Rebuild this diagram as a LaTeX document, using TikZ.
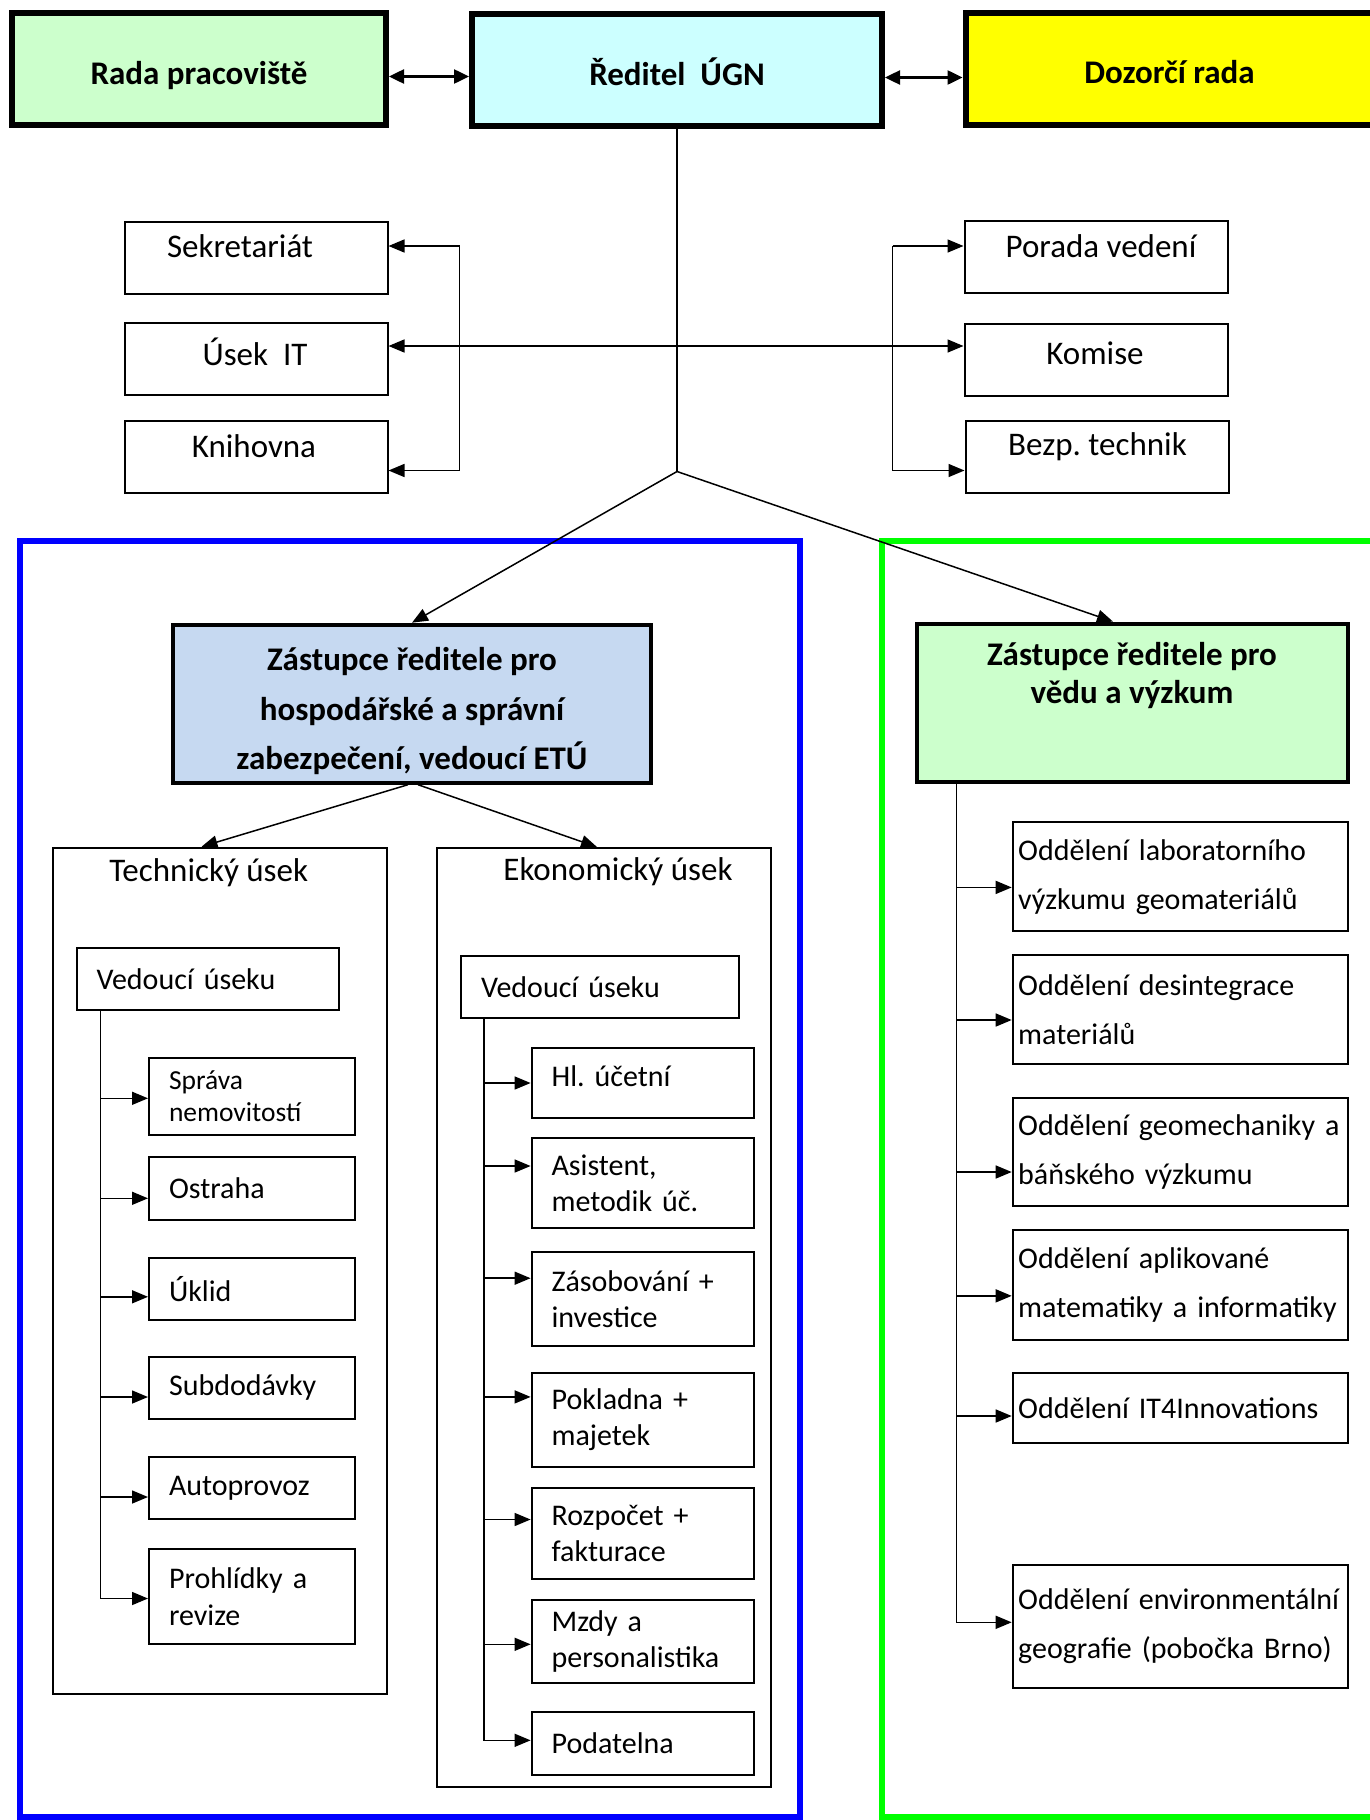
\documentclass[tikz,border=0pt]{standalone}
\usepackage{fontspec}
\setmainfont{Carlito}
\usetikzlibrary{arrows.meta, positioning}
\definecolor{radacolor}{RGB}{204,255,204}
\definecolor{reditelcolor}{RGB}{204,255,255}
\definecolor{dozorcolor}{RGB}{255,255,0}
\definecolor{hscolor}{RGB}{198,217,241}
\definecolor{frameblue}{RGB}{0,0,255}
\definecolor{framegreen}{RGB}{0,255,0}
\newcommand\fsz[2]{\fontsize{#1}{#2}\selectfont}
\frenchspacing

\begin{document}
\begin{tikzpicture}[
    x=1pt, y=-1pt,
    >={Triangle[length=16pt,width=13pt]},
    top/.style={draw, line width=6pt, fill=#1, minimum height=112pt, text height=31pt, text depth=0pt, font=\fsz{33}{40}\bfseries},
    frame/.style={draw=#1, line width=6pt, minimum height=1276pt},
    box/.style={draw, line width=2pt, inner sep=0pt},
    small/.style={box, minimum width=263pt, minimum height=72pt},
    lbl/.style={inner sep=0pt, font=\fsz{33}{40}},
    deputy/.style={draw, line width=4pt, fill=#1, minimum height=158pt},
    usek/.style={box, minimum width=334pt},
    vedouci/.style={box, text width=#1, minimum height=62pt, inner xsep=20pt, align=left, font=\fsz{30}{37}},
    tsub/.style={box, text width=166pt, inner xsep=20pt, align=left, font=\fsz{30}{37}},
    esub/.style={box, text width=182.4pt, inner xsep=20pt, align=left, font=\fsz{30}{36}},
    odd/.style={box, text width=324.3pt, inner xsep=5.5pt, align=left, font=\fsz{30}{49}},
    arr/.style={line width=1.5pt, ->},
    darr/.style={line width=2.5pt, {Triangle[length=15pt,width=14pt]}-{Triangle[length=15pt,width=14pt]}}
]
    \fill[white] (0,0) rectangle (1369,1820);
    \path[use as bounding box] (0,0) rectangle (1369,1820);

    % Frames of the two deputies
    \node[frame=frameblue, minimum width=780pt] (hsframe) at (410,1179) {};
    \node[frame=framegreen, minimum width=520pt] (vvframe) at (1141.7,1179) {};

    % Top row
    \node[top=radacolor, minimum width=374pt] (rada) at (199,68.5) {Rada pracoviště};
    \node[top=reditelcolor, minimum width=410pt] (reditel) at (677,69.5) {Ředitel~ ÚGN};
    \node[top=dozorcolor, minimum width=425pt] (dozor) at (1178,69) {};
    \node[lbl, font=\fsz{33}{40}\bfseries] (dozorT) at (1169.5,72) {Dozorčí rada};

    \draw[darr] ([yshift=-8pt]rada.east) -- ([yshift=-8pt]rada.east -| reditel.west);
    \draw[darr] ([yshift=-8pt]reditel.east) -- ([yshift=-8pt]reditel.east -| dozor.west);

    % Staff boxes
    \node[small] (sekr) at (256,257.5) {};
    \node[lbl] (sekrT) at (240,246.5) {Sekretariát};
    \node[small] (usekit) at (256,358.5) {};
    \node[lbl] (usekitT) at (255,352) {Úsek~ IT};
    \node[small] (knih) at (256,456.5) {};
    \node[lbl] (knihT) at (254,446) {Knihovna};

    \node[small] (porada) at (1096,256.5) {};
    \node[lbl] (poradaT) at (1101,246) {Porada vedení};
    \node[small] (komise) at (1096,359.5) {};
    \node[lbl] (komiseT) at (1095,353) {Komise};
    \node[small] (bezp) at (1097,456.5) {};
    \node[lbl] (bezpT) at (1097.5,446.5) {Bezp. technik};

    \coordinate (brL1) at (459.5,246);
    \coordinate (brL2) at (459.5,470.5);
    \coordinate (brR1) at (892.5,246);
    \coordinate (brR2) at (892.5,470.5);
    \draw[arr] (brL1) -- (brL1 -| sekr.east);
    \draw[arr] (brL1) -- (brL2) -- (brL2 -| knih.east);
    \draw[arr] (brR1) -- (brR1 -| porada.west);
    \draw[arr] (brR1) -- (brR2) -- (brR2 -| bezp.west);
    \draw[arr, <->] ([yshift=12.5pt]usekit.east) -- ([yshift=12.5pt]usekit.east -| komise.west);

    % Deputies
    \node[deputy=hscolor, minimum width=478pt] (zhs) at (412,703.7) {};
    \node[lbl, font=\fsz{33}{49.5}\bfseries, align=center] (zhsT) at (412,711.5) {Zástupce ředitele pro\\hospodářské a správní\\zabezpečení, vedoucí ETÚ};
    \node[deputy=radacolor, minimum width=431pt] (zvv) at (1132.5,702.6) {};
    \node[lbl, font=\fsz{33}{38}\bfseries, align=center] (zvvT) at (1132,676) {Zástupce ředitele pro\\vědu a výzkum};

    \coordinate (fork) at (677,471.5);
    \draw[line width=1.5pt] (reditel.south) -- (fork);
    \draw[arr] (fork) -- (zhs.north);
    \draw[arr] (fork) -- ([xshift=-19.5pt]zvv.north);

    % Technical and economic sections
    \node[usek, minimum height=846pt] (tech) at (220,1270.7) {};
    \node[lbl] (techT) at (208.7,872.7) {Technický úsek};
    \node[usek, minimum height=939pt] (econ) at (604,1317.5) {};
    \node[lbl] (econT) at (618,872) {Ekonomický úsek};
    \draw[arr] ([xshift=-4pt]zhs.south) -- ([xshift=-18.5pt]tech.north);
    \draw[arr] ([xshift=6pt]zhs.south) -- ([xshift=-7pt]econ.north);

    \node[vedouci=222.5pt] (tved) at (207.75,979) {Vedoucí úseku};
    \node[tsub, minimum height=77.4pt, font=\fsz{27.5}{32}] (sprava) at (252,1096.3) {Správa\\nemovitostí};
    \node[tsub, minimum height=62.5pt] (ostraha) at (252,1188.3) {Ostraha};
    \node[tsub, minimum height=61.6pt] (uklid) at (252,1288.8) {Úklid};
    \node[tsub, minimum height=62pt] (subd) at (252,1387.5) {Subdodávky};
    \node[tsub, minimum height=62.5pt] (autop) at (252,1488) {Autoprovoz};
    \node[tsub, minimum height=95pt] (prohl) at (252,1596.5) {Prohlídky a\\revize};

    \coordinate (tvtop) at ([xshift=25pt]tved.south west);
    \foreach \b/\dy in {sprava/-2, ostraha/-10, uklid/-8, subd/-9.5, autop/-9}
        \draw[arr] ([yshift=\dy pt]\b.west -| tvtop) -- ([yshift=\dy pt]\b.west);
    \draw[arr] (tvtop) |- ([yshift=-2pt]prohl.west);

    \node[vedouci=238pt] (eved) at (600,987) {Vedoucí úseku};
    \node[esub, minimum height=70.2pt, text depth=14pt] (hl) at (642.8,1083) {Hl. účetní};
    \node[esub, minimum height=90pt] (asist) at (642.8,1183) {Asistent,\\metodik úč.};
    \node[esub, minimum height=93.6pt] (zasob) at (642.8,1299.2) {Zásobování +\\investice};
    \node[esub, minimum height=93.7pt] (pokl) at (642.8,1419.9) {Pokladna +\\majetek};
    \node[esub, minimum height=91.7pt] (rozp) at (642.8,1533.5) {Rozpočet +\\fakturace};
    \node[esub, minimum height=82.6pt] (mzdy) at (642.8,1641.3) {Mzdy a\\personalistika};
    \node[esub, minimum height=63.5pt] (podat) at (642.8,1743.3) {Podatelna};

    \coordinate (evtop) at ([xshift=24pt]eved.south west);
    \foreach \b/\dy in {hl/0, asist/17, zasob/21, pokl/23, rozp/14, mzdy/-3}
        \draw[arr] ([yshift=\dy pt]\b.west -| evtop) -- ([yshift=\dy pt]\b.west);
    \draw[arr] (evtop) |- ([yshift=3pt]podat.west);

    % Research departments
    \node[odd, minimum height=108.6pt] (lab) at (1180.35,876.7) {Oddělení laboratorního\\výzkumu geomateriálů};
    \node[odd, minimum height=108.5pt] (desint) at (1180.35,1009.25) {Oddělení desintegrace\\materiálů};
    \node[odd, minimum height=108pt] (geomech) at (1180.35,1152) {Oddělení geomechaniky a\\báňského výzkumu};
    \node[odd, minimum height=109.9pt] (aplik) at (1180.35,1284.85) {Oddělení aplikované\\matematiky a informatiky};
    \node[odd, minimum height=70pt] (it4i) at (1180.35,1408) {Oddělení IT4Innovations};
    \node[odd, minimum height=123.4pt] (env) at (1180.35,1626.3) {Oddělení environmentální\\geografie (pobočka Brno)};

    \coordinate (rvtop) at ([xshift=41.5pt]zvv.south west);
    \foreach \b/\dy in {lab/-10.7, desint/-10.75, geomech/-20, aplik/-11, it4i/-8}
        \draw[arr] ([yshift=\dy pt]\b.west -| rvtop) -- ([yshift=\dy pt]\b.west);
    \draw[arr] (rvtop) |- ([yshift=4pt]env.west);

\end{tikzpicture}
\end{document}
